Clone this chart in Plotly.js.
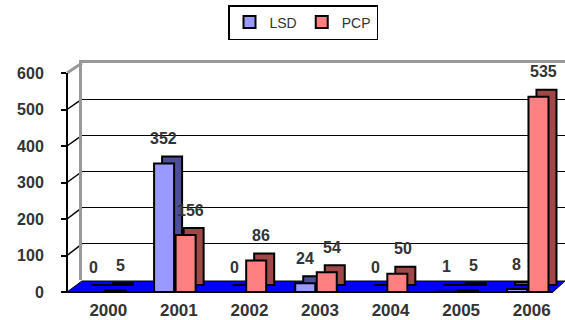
<!DOCTYPE html>
<html>
<head>
<meta charset="utf-8">
<script src="https://cdn.plot.ly/plotly-3.0.1.min.js"></script>
<style>html,body{margin:0;padding:0;background:#fff;}#chart{width:565px;height:320px;}</style>
</head>
<body>
<div id="chart"></div>
<script>
const years = ['2000','2001','2002','2003','2004','2005','2006'];
const lsd = [0, 352, 0, 24, 0, 1, 8];
const pcp = [5, 156, 86, 54, 50, 5, 535];
const yTicks = [0, 100, 200, 300, 400, 500, 600];

const W = 565, H = 320;
const LSD_FRONT = '#9999ff', LSD_SIDE = '#4d4d99';
const PCP_FRONT = '#ff8080', PCP_SIDE = '#a04848';
const FONT = 'Liberation Sans, Arial, sans-serif';
const TXT = '#333333';

// pseudo-3D geometry (pixels)
const frontX0 = 69, frontX1 = 563, frontYbot = 292, frontYtop = 73;
const wallX0 = 82, wallYbot = 280, wallYtop = 63;
const catPx = (frontX1 - frontX0) / years.length;
const unitPx = (frontYbot - frontYtop) / 600;
const depthDx = 8, depthDy = 7;
const dCat = depthDx / catPx, dVal = depthDy / unitPx;

const traces = [
  // invisible trace so the back-wall subplot is drawn
  {type:'scatter', mode:'none', x: years, y: lsd, xaxis:'x', yaxis:'y', showlegend:false, hoverinfo:'skip'},
  // back faces (depth)
  {type:'bar', x: years, y: lsd, xaxis:'x2', yaxis:'y2', showlegend:false, name:'LSD', hoverinfo:'skip',
    marker:{color:LSD_SIDE, line:{color:'#000', width:2}}},
  {type:'bar', x: years, y: pcp, xaxis:'x2', yaxis:'y2', showlegend:false, name:'PCP', hoverinfo:'skip',
    marker:{color:PCP_SIDE, line:{color:'#000', width:2}}},
  // front faces
  {type:'bar', x: years, y: lsd, xaxis:'x3', yaxis:'y3', name:'LSD', hoverinfo:'skip',
    marker:{color:LSD_FRONT, line:{color:'#000', width:2}}},
  {type:'bar', x: years, y: pcp, xaxis:'x3', yaxis:'y3', name:'PCP', hoverinfo:'skip',
    marker:{color:PCP_FRONT, line:{color:'#000', width:2}}}
];

const labelFont = {family:FONT, size:16, color:TXT, weight:'bold'};
const annotations = [];
years.forEach((yr, i) => {
  annotations.push({xref:'x3', yref:'y3', x: i, y: lsd[i], text: String(lsd[i]), showarrow:false,
    xshift:-11, yshift:25, yanchor:'middle', font:labelFont});
  annotations.push({xref:'x3', yref:'y3', x: i, y: pcp[i], text: String(pcp[i]), showarrow:false,
    xshift:16, yshift:25, yanchor:'middle', font:labelFont});
});

const frontDom = [1 - frontYbot/H, 1 - frontYtop/H];
const wallDom = [1 - wallYbot/H, 1 - wallYtop/H];
const shapes = [
  {type:'path', xref:'paper', yref:'paper',
    path:`M ${67/W} ${1-292/H} L ${82/W} ${1-281/H} L 1 ${1-281/H} L ${553/W} ${1-292/H} Z`,
    fillcolor:'#0000ff', line:{color:'#000', width:1}, layer:'below'},
  {type:'line', xref:'paper', yref:'paper', x0:62/W, x1:553/W, y0:1-292/H, y1:1-292/H,
    line:{color:'#000', width:2}, layer:'below'}
];
// diagonal connectors from the front axis ticks to the back wall
yTicks.slice(1).forEach(t => {
  shapes.push({type:'line', xref:'paper', yref:'paper',
    x0:67/W, x1:wallX0/W,
    y0: frontDom[0] + t/600*(frontDom[1]-frontDom[0]),
    y1: wallDom[0] + t/600*(wallDom[1]-wallDom[0]),
    line:{color: t === 600 ? '#999' : '#000', width: t === 600 ? 3 : 1.5}, layer:'below'});
});

const layout = {
  width: W, height: H,
  margin:{l:0, r:0, t:0, b:0},
  paper_bgcolor:'#fff', plot_bgcolor:'rgba(0,0,0,0)',
  barmode:'group', bargap:0.39, bargroupgap:0.07,
  font:{family:FONT, color:TXT},
  showlegend:true,
  legend:{orientation:'h', x:303/W, xanchor:'center', y:1-5/H, yanchor:'top',
    bgcolor:'#fff', bordercolor:'#000', borderwidth:1.5, itemwidth:30,
    font:{family:FONT, size:14, color:TXT}},
  // back wall
  xaxis: {domain:[wallX0/W, 1], type:'category', categoryarray: years, range:[-0.5, 6.5],
    showgrid:false, zeroline:false, showticklabels:false, ticks:'',
    showline:true, side:'top', linecolor:'#999', linewidth:3, anchor:'y'},
  yaxis: {domain: wallDom, range:[0,600], anchor:'x', tickvals: yTicks.slice(1),
    showgrid:true, gridcolor:'#000', gridwidth:1, zeroline:false, showticklabels:false, ticks:'',
    showline:true, linecolor:'#999', linewidth:3},
  // depth faces (shifted right/up)
  xaxis2: {domain:[frontX0/W, frontX1/W], type:'category', categoryarray: years,
    range:[-0.5 - dCat, 6.5 - dCat], anchor:'y2', showgrid:false, zeroline:false, showticklabels:false, ticks:''},
  yaxis2: {domain: frontDom, range:[-dVal, 600 - dVal], anchor:'x2',
    showgrid:false, zeroline:false, showticklabels:false, ticks:''},
  // front faces
  xaxis3: {domain:[frontX0/W, frontX1/W], type:'category', categoryarray: years, range:[-0.5, 6.5],
    anchor:'y3', showgrid:false, zeroline:false, showline:false, ticks:'', ticklabelshift:4, ticklabelstandoff:6,
    tickfont:{family:FONT, size:17, color:TXT, weight:'bold'}},
  yaxis3: {domain: frontDom, range:[0,600], anchor:'free', position:67/W,
    tickvals: yTicks, showgrid:false, zeroline:false, showline:true, linecolor:'#000', linewidth:2,
    ticks:'outside', ticklen:5, tickwidth:2, tickcolor:'#000', ticklabelstandoff:14,
    tickfont:{family:FONT, size:16, color:TXT, weight:'bold'}},
  shapes: shapes,
  annotations: annotations
};

Plotly.newPlot('chart', traces, layout, {staticPlot:true, displayModeBar:false});
</script>
</body>
</html>
